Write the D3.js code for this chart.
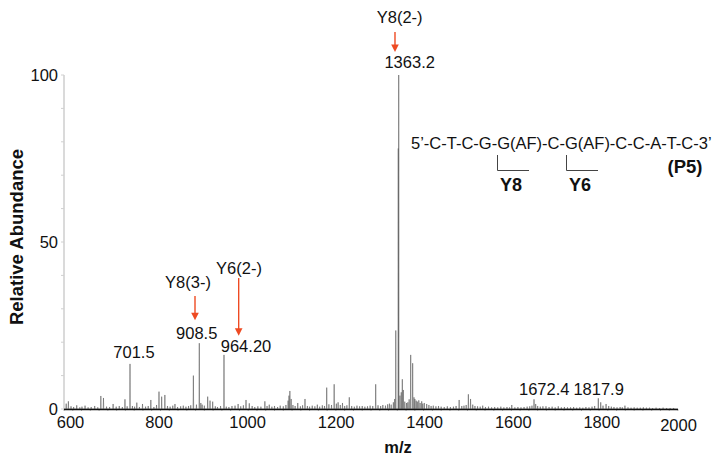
<!DOCTYPE html>
<html>
<head>
<meta charset="utf-8">
<script src="https://cdn.jsdelivr.net/npm/d3@7/dist/d3.min.js"></script>
<style>
  body { margin: 0; background: #fff; }
  text { font-family: Helvetica, Arial, "Liberation Sans", sans-serif; fill: #111; }
</style>
</head>
<body>
<div id="chart"></div>
<script>
// spectrum peaks: [m/z, relative abundance]
var peaks = [
  [605,1.6],[610,2.3],[616,0.8],[622,0.6],[629,1.1],[636,0.5],[641,0.7],[648,1.0],[655,0.5],[662,0.6],
  [670,0.9],[677,0.5],[684,3.9],[690,3.3],[697,0.7],[704,0.6],[712,1.5],[719,0.7],[726,0.9],[733,0.6],
  [739,2.9],[744,0.8],[750.5,13.5],[756,0.9],[761,0.7],[766,1.9],[772,0.6],[779,1.5],[786,0.7],[792,0.9],
  [798,2.7],[805,0.6],[811,1.2],[816.6,5.2],[822.7,3.7],[830,4.2],[836,0.9],[842,0.7],[848,1.0],[853,1.5],
  [859,0.6],[866,0.8],[872,1.0],[878,0.7],[884,0.9],[889,1.1],[895,10],[902,1.3],[908.5,19.7],[912,1.8],
  [915,1.3],[920,1.0],[927.6,3.7],[933,2.5],[939,2.2],[945,0.8],[950,0.6],[957,0.9],[964.8,16.2],[970,0.7],
  [976,0.6],[983,0.9],[990,1.0],[997,1.5],[1003,0.8],[1009,1.1],[1015,2.7],[1022.5,1.7],[1029,0.9],[1035,0.6],
  [1042,0.8],[1049,0.7],[1058,2.3],[1063,0.9],[1068,1.3],[1074,0.7],[1080,0.9],[1087,0.6],[1093,1.0],[1100,0.8],
  [1106,1.2],[1111,2.5],[1113,4.0],[1115,5.4],[1118,3.0],[1122,1.2],[1127,0.9],[1133,1.8],[1139,0.8],[1144,1.1],
  [1149.5,3.0],[1155,0.9],[1160,0.7],[1166,1.0],[1172,0.8],[1177.6,1.3],[1183,0.7],[1189,1.1],[1194,0.9],[1199,6.4],
  [1204,1.4],[1210,1.2],[1216,7.4],[1221,1.6],[1225,2.0],[1230,1.2],[1235,1.8],[1240,0.9],[1245,1.1],[1250.5,3.5],
  [1256,0.9],[1262,0.7],[1268,1.0],[1274,0.8],[1280,0.9],[1286,0.7],[1292,0.8],[1298,1.0],[1304,0.9],[1310.7,7.4],
  [1316,1.1],[1322,0.9],[1327,1.2],[1333,1.0],[1338,1.4],[1342,1.6],[1346,1.3],[1351,2.0],[1354,3.0],[1356.5,23.5],
  [1362.2,78],[1363.2,100],[1366,4],[1369,5],[1371.4,8.9],[1373.7,5.7],[1377,2.2],[1381,1.8],[1384,2.0],[1387,2.9],
  [1390.5,16.2],[1395,13.7],[1398,3.5],[1400,3.0],[1403,2.5],[1405.6,2.2],[1409,2.6],[1412,1.8],[1415.6,2.3],[1418,1.6],
  [1421.5,1.8],[1427,1.5],[1432,1.2],[1437,0.9],[1442,1.0],[1448,0.8],[1454,0.9],[1460,0.7],[1467,0.6],[1474,0.8],
  [1481,0.6],[1488,0.7],[1494,0.9],[1501,2.7],[1507,0.9],[1512,1.0],[1517,1.2],[1522,4.4],[1527,3.0],[1532,1.3],
  [1537,0.9],[1543,0.8],[1549,0.7],[1554.7,1.0],[1561,0.6],[1568,0.7],[1575,0.5],[1582,0.6],[1589,0.5],[1596,0.7],
  [1603,0.5],[1610,0.6],[1616,0.5],[1621,1.2],[1628,0.5],[1635,0.6],[1642,0.5],[1649,0.6],[1656,0.7],[1662,0.8],
  [1667,1.0],[1671.7,2.9],[1675.5,1.5],[1680,0.9],[1686,0.7],[1692,0.8],[1699,0.8],[1706,0.6],[1713,0.7],[1720,0.5],
  [1727,0.8],[1734,0.5],[1741,0.6],[1748,0.5],[1755,0.5],[1762,0.6],[1769,0.4],[1776,0.5],[1783,0.4],[1790,0.6],
  [1797,0.5],[1804,0.7],[1810,0.9],[1818.3,3.2],[1823.8,2.0],[1829,1.0],[1836,1.5],[1842,0.9],[1848,0.7],[1854,0.6],
  [1861,0.5],[1868,0.6],[1873,0.5],[1879,1.0],[1886,0.5],[1893,0.4],[1900,0.5],[1907,0.4],[1914,0.4],[1921,0.5],
  [1928,0.4],[1935,0.4],[1942,0.3],[1950,0.4],[1958,0.3],[1966,0.4],[1974,0.3],[1982,0.3],[1990,0.3]
];

var xTicks = [600, 800, 1000, 1200, 1400, 1600, 1800, 2000];
var yTickLabels = [0, 50, 100];
var yMinorTicks = [0, 10, 20, 30, 40, 50, 60, 70, 80, 90, 100];

// peak labels, anchored in data space [m/z, abundance]
var peakLabels = [
  { text: 'Y8(2-)', mz: 1365.4, ab: 117.4 },
  { text: '1363.2', mz: 1388.2, ab: 103.7 },
  { text: 'Y8(3-)', mz: 882.7, ab: 38.1 },
  { text: '908.5',  mz: 902.6, ab: 22.75 },
  { text: 'Y6(2-)', mz: 999, ab: 42.2 },
  { text: '964.20', mz: 1015, ab: 18.9 },
  { text: '701.5',  mz: 759.6, ab: 16.9 },
  { text: '1672.4', mz: 1695, ab: 6.0 },
  { text: '1817.9', mz: 1819, ab: 6.0 }
];

// red arrows: [m/z, from abundance, to abundance]
var arrows = [
  [1354.7, 112.9, 106.9],
  [898.7, 33.8, 26.6],
  [998.3, 39.2, 21.9]
];

var sequence = "5\u2019-C-T-C-G-G(AF)-C-G(AF)-C-C-A-T-C-3\u2019";

var width = 726, height = 461;
var margins = { top: 75, right: 48, bottom: 52, left: 64 };
var red = '#ee4a22';

var svg = d3.select('#chart').append('svg')
  .attr('width', width)
  .attr('height', height);

var x = d3.scaleLinear().domain([600, 2000]).range([margins.left, width - margins.right]);
var y = d3.scaleLinear().domain([0, 100]).range([height - margins.bottom, margins.top]);

// y axis line + minor ticks
var yAxis = svg.append('g').attr('class', 'y-axis');
yAxis.append('line')
  .attr('x1', x(600)).attr('x2', x(600))
  .attr('y1', y(0)).attr('y2', y(100))
  .attr('stroke', '#c6c6c6').attr('stroke-width', 1.3);
yAxis.selectAll('.minor').data(yMinorTicks).enter().append('line')
  .attr('x1', x(600) - 3).attr('x2', x(600))
  .attr('y1', d => y(d)).attr('y2', d => y(d))
  .attr('stroke', '#d0d0d0').attr('stroke-width', 1);
yAxis.selectAll('text').data(yTickLabels).enter().append('text')
  .attr('x', x(600) - 6)
  .attr('y', d => y(d))
  .attr('dy', '0.35em')
  .attr('text-anchor', 'end')
  .attr('font-size', 16.5)
  .text(d => d);

// x axis labels (no axis line, the spectrum baseline is the axis)
var xAxis = svg.append('g')
  .attr('transform', `translate(0,${y(0) + 16})`)
  .call(d3.axisBottom(x).tickValues(xTicks).tickFormat(d3.format('d')).tickSize(0).tickPadding(0));
xAxis.select('.domain').remove();
xAxis.selectAll('text')
  .attr('font-size', 16.5)
  .attr('font-family', 'Helvetica, Arial, "Liberation Sans", sans-serif')
  .attr('fill', '#111')
  .attr('dy', d => d === 2000 ? '0.35em' : '0.18em')
  .attr('dx', d => d === 2000 ? 0 : 6 + (d - 600) / 240);

// tiny minor ticks under baseline
svg.append('g').selectAll('line').data(d3.range(600, 2001, 20)).enter().append('line')
  .attr('x1', d => x(d)).attr('x2', d => x(d))
  .attr('y1', y(0)).attr('y2', y(0) + 2)
  .attr('stroke', '#777').attr('stroke-width', 0.5);

// spectrum
var w = 0.6;
var pts = [[600, 0]];
peaks.forEach(function (p) {
  pts.push([p[0] - w, 0], [p[0], p[1]], [p[0] + w, 0]);
});
pts.push([2000, 0]);
var line = d3.line().x(d => x(d[0])).y(d => y(d[1]));
svg.append('path')
  .datum(pts)
  .attr('d', line)
  .attr('fill', 'none')
  .attr('stroke', '#5e5e5e')
  .attr('stroke-width', 0.6)
  .attr('stroke-linejoin', 'miter');
svg.append('line')
  .attr('x1', x(600)).attr('x2', x(2000))
  .attr('y1', y(0) + 0.5).attr('y2', y(0) + 0.5)
  .attr('stroke', '#111').attr('stroke-width', 1.3);

// axis titles
svg.append('text')
  .attr('transform', `translate(17,${(y(0) + y(100)) / 2 - 5}) rotate(-90)`)
  .attr('text-anchor', 'middle')
  .attr('dy', '0.35em')
  .attr('font-size', 18.5)
  .attr('font-weight', 'bold')
  .text('Relative Abundance');
svg.append('text')
  .attr('x', 398).attr('y', 447)
  .attr('dy', '0.35em')
  .attr('text-anchor', 'middle')
  .attr('font-size', 16.5)
  .attr('font-weight', 'bold')
  .text('m/z');

// peak labels
svg.append('g').selectAll('text').data(peakLabels).enter().append('text')
  .attr('x', d => x(d.mz))
  .attr('y', d => y(d.ab))
  .attr('dy', '0.35em')
  .attr('text-anchor', 'middle')
  .attr('font-size', 16.5)
  .text(d => d.text);

// arrows
var ag = svg.append('g');
arrows.forEach(function (a) {
  var ax = x(a[0]), y1 = y(a[1]), y2 = y(a[2]);
  ag.append('line')
    .attr('x1', ax).attr('x2', ax)
    .attr('y1', y1).attr('y2', y2 - 6)
    .attr('stroke', red).attr('stroke-width', 1.4);
  ag.append('path')
    .attr('d', `M${ax - 3.8},${y2 - 7.5}L${ax + 3.8},${y2 - 7.5}L${ax},${y2}Z`)
    .attr('fill', red);
});

// sequence annotation
var seq = svg.append('g');
seq.append('text')
  .attr('x', 411).attr('y', 143)
  .attr('dy', '0.35em')
  .attr('font-size', 16.5)
  .text(sequence);
seq.append('path')
  .attr('d', 'M497.5,155V170.5H529M566.5,155V170.5H598')
  .attr('fill', 'none')
  .attr('stroke', '#444')
  .attr('stroke-width', 1);
seq.selectAll('.frag').data([['Y8', 511], ['Y6', 580]]).enter().append('text')
  .attr('x', d => d[1]).attr('y', 185)
  .attr('dy', '0.35em')
  .attr('text-anchor', 'middle')
  .attr('font-size', 18)
  .attr('font-weight', 'bold')
  .text(d => d[0]);
seq.append('text')
  .attr('x', 685).attr('y', 167)
  .attr('dy', '0.35em')
  .attr('text-anchor', 'middle')
  .attr('font-size', 18.5)
  .attr('font-weight', 'bold')
  .text('(P5)');
</script>
</body>
</html>
